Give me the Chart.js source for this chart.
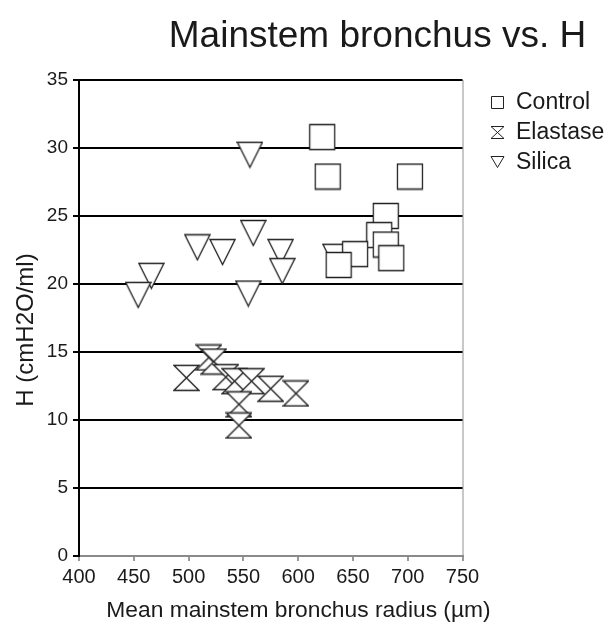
<!DOCTYPE html>
<html>
<head>
<meta charset="utf-8">
<script src="https://cdn.jsdelivr.net/npm/chart.js@4.4.1/dist/chart.umd.min.js"></script>
<style>
  html, body { margin: 0; padding: 0; background: #fff; }
  #wrap { width: 611px; height: 628px; position: relative; }
</style>
</head>
<body>
<div id="wrap"><canvas id="myChart" width="611" height="628"></canvas></div>
<script>
const title = "Mainstem bronchus vs. H";
const xTitle = "Mean mainstem bronchus radius (µm)";
const yTitle = "H (cmH2O/ml)";
const seriesNames = ["Control", "Elastase", "Silica"];

const controlX = [622, 627, 702, 680, 674, 680, 685, 652, 637];
const controlH = [30.8, 27.9, 27.9, 25.0, 23.6, 22.9, 21.9, 22.2, 21.4];

const elastaseX = [498, 518.5, 523, 534, 542, 557.5, 575, 598, 546, 546];
const elastaseH = [13.1, 14.6, 14.3, 13.15, 12.85, 12.85, 12.3, 11.95, 11.15, 9.6];

const silicaX = [556, 559, 508, 531, 584, 585.5, 466, 454, 554.5, 634];
const silicaH = [29.5, 23.75, 22.7, 22.35, 22.35, 20.95, 20.6, 19.2, 19.3, 22.0];

const xMin = 400, xMax = 750, xStep = 50;
const yMin = 0, yMax = 35, yStep = 5;

const FONT = "'Liberation Sans', Arial, sans-serif";

// open white markers drawn once onto small canvases
function marker(kind, w, h, lw) {
  const c = document.createElement("canvas");
  c.width = w + 2;
  c.height = h + 2;
  const g = c.getContext("2d");
  const l = 1, t = 1, r = w + 1, b = h + 1;
  g.beginPath();
  if (kind === "square") {
    g.rect(l + 0.5, t + 0.5, w - 1, h - 1);
  } else if (kind === "hourglass") {
    g.moveTo(l, t + 0.5);
    g.lineTo(r, t + 0.5);
    g.lineTo(l, b - 0.5);
    g.lineTo(r, b - 0.5);
    g.closePath();
  } else {
    g.moveTo(l, t + 0.5);
    g.lineTo(r, t + 0.5);
    g.lineTo((l + r) / 2, b - 0.5);
    g.closePath();
  }
  g.fillStyle = "#fff";
  g.fill();
  g.strokeStyle = "#222";
  g.lineWidth = lw;
  g.stroke();
  return c;
}

const bigMarks = [marker("square", 26, 26, 1.3), marker("hourglass", 25, 26, 1.3), marker("tri", 25, 26, 1.3)];
const smallMarks = [marker("square", 13, 13, 1), marker("hourglass", 13, 13, 1), marker("tri", 13, 12, 1)];

function toPoints(xs, ys) {
  return xs.map((x, i) => ({ x: x, y: ys[i] }));
}

const textPlugin = {
  id: "texts",
  afterDraw(chart) {
    const ctx = chart.ctx;
    ctx.save();
    ctx.fillStyle = "#1a1a1a";

    ctx.font = "37px " + FONT;
    ctx.textAlign = "center";
    ctx.textBaseline = "alphabetic";
    ctx.fillText(title, 377.5, 47);

    ctx.font = "22.8px " + FONT;
    ctx.fillText(xTitle, 298.5, 617);

    ctx.save();
    ctx.translate(26, 330);
    ctx.rotate(-Math.PI / 2);
    ctx.font = "24px " + FONT;
    ctx.textBaseline = "middle";
    ctx.fillText(yTitle, 0, 0);
    ctx.restore();

    // legend
    ctx.font = "23px " + FONT;
    ctx.textAlign = "left";
    ctx.textBaseline = "middle";
    seriesNames.forEach((name, i) => {
      const cy = 102 + i * 30;
      const m = smallMarks[i];
      ctx.drawImage(m, Math.round(497 - m.width / 2), Math.round(cy - m.height / 2));
      ctx.fillText(name, 516, cy + 1);
    });
    ctx.restore();
  }
};

const myChart = document.querySelector("#myChart");
const chart = new Chart(myChart, {
  type: "scatter",
  data: {
    datasets: [
      { label: seriesNames[0], data: toPoints(controlX, controlH), pointStyle: bigMarks[0] },
      { label: seriesNames[1], data: toPoints(elastaseX, elastaseH), pointStyle: bigMarks[1] },
      { label: seriesNames[2], data: toPoints(silicaX, silicaH), pointStyle: bigMarks[2] },
    ],
  },
  options: {
    responsive: false,
    animation: false,
    events: [],
    layout: { padding: { left: 0, top: 80, right: 148.5, bottom: 0 } },
    plugins: {
      legend: { display: false },
      title: { display: false },
      tooltip: { enabled: false },
    },
    scales: {
      x: {
        type: "linear",
        min: xMin,
        max: xMax,
        afterFit(scale) { scale.height = 72; },
        ticks: {
          stepSize: xStep,
          padding: 4,
          color: "#1a1a1a",
          font: { family: FONT, size: 20 },
          maxRotation: 0,
        },
        grid: {
          color: (c) => (c.tick && c.tick.value === xMax ? "#c8c8c8" : "rgba(0,0,0,0)"),
          tickColor: "#999",
          tickLength: 5,
          lineWidth: 2,
        },
        border: { color: "#8a8a8a", width: 2 },
      },
      y: {
        type: "linear",
        min: yMin,
        max: yMax,
        afterFit(scale) { scale.width = 79; },
        ticks: {
          stepSize: yStep,
          padding: 5,
          color: "#1a1a1a",
          font: { family: FONT, size: 19 },
        },
        grid: {
          color: (c) => (c.tick && c.tick.value === yMin ? "rgba(0,0,0,0)" : "#000"),
          tickColor: "#000",
          tickLength: 6,
          lineWidth: 2,
        },
        border: { color: "#000", width: 2 },
      },
    },
  },
  plugins: [textPlugin],
});
</script>
</body>
</html>
